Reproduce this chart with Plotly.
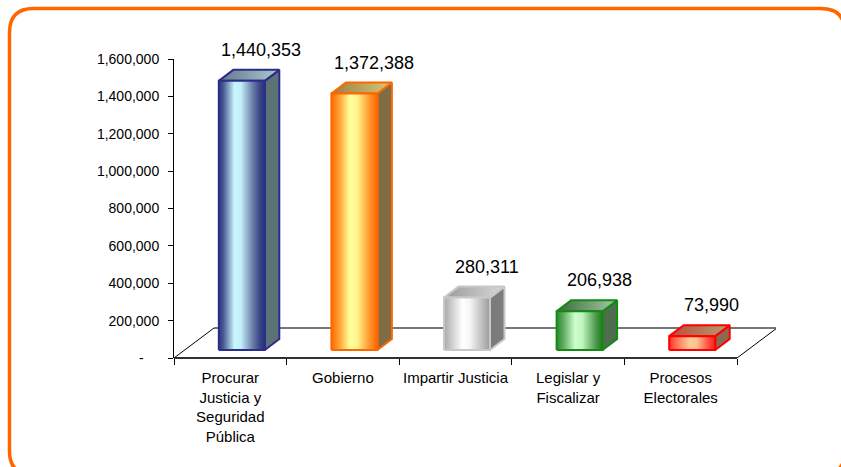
import plotly.graph_objects as go

# ---- data -------------------------------------------------------------
categories = [
    "Procurar<br>Justicia y<br>Seguridad<br>Pública",
    "Gobierno",
    "Impartir Justicia",
    "Legislar y<br>Fiscalizar",
    "Procesos<br>Electorales",
]
values = [1440353, 1372388, 280311, 206938, 73990]
y_tickvals = [0, 200000, 400000, 600000, 800000, 1000000, 1200000, 1400000, 1600000]
y_ticktext = ["-\u00a0\u00a0\u00a0\u00a0", "200,000", "400,000", "600,000", "800,000",
              "1,000,000", "1,200,000", "1,400,000", "1,600,000"]

# ---- styles per bar: outline, front gradient, top gradient, side colour -
bar_styles = [
    dict(line="#2c2c8c",
         front=[[0, "#2c3578"], [0.1, "#4a5a92"], [0.34, "#c8f6fd"], [0.48, "#c2eff9"],
                [0.74, "#6a7ca6"], [0.9, "#364484"], [1, "#29307c"]],
         top=[[0, "#66748e"], [1, "#a8cccc"]], side="#5b7377"),
    dict(line="#ff6600",
         front=[[0, "#ff6a00"], [0.16, "#ff9c30"], [0.4, "#ffff99"], [0.56, "#fff48e"],
                [0.82, "#ff9a30"], [1, "#ff6600"]],
         top=[[0, "#9a8040"], [1, "#d6c878"]], side="#7f6d45"),
    dict(line="#c8c8c8",
         front=[[0, "#a8a8a8"], [0.4, "#ffffff"], [0.56, "#f6f6f6"], [1, "#9a9a9a"]],
         top=[[0, "#9a9a9a"], [1, "#d8d8d8"]], side="#7c7c7c"),
    dict(line="#148a14",
         front=[[0, "#2a8a2a"], [0.15, "#62aa62"], [0.4, "#ccffcc"], [0.56, "#c0f4c0"],
                [0.85, "#4e9a4e"], [1, "#1a7a1a"]],
         top=[[0, "#3a6a3a"], [1, "#a8c8a8"]], side="#4e6e4e"),
    dict(line="#ff0000",
         front=[[0, "#ff2a2a"], [0.15, "#ff7050"], [0.45, "#ffcc99"], [0.6, "#ffc090"],
                [0.85, "#ff5040"], [1, "#ff1a1a"]],
         top=[[0, "#c04a3a"], [1, "#b0a070"]], side="#8a6a50"),
]

FONT = "Arial, Liberation Sans, sans-serif"

# ---- page geometry ----------------------------------------------------
W_PAGE, H_PAGE = 841, 467
L, T, PW, PH = 174, 59, 602, 299          # plot area in pixels
YMAX = 1600000
PX_PER_CAT = 112.6
X0 = -0.5
X1 = X0 + PW / PX_PER_CAT
VAL_PER_PX = YMAX / PH

# 3-D projection offsets (category units / value units)
FLOOR_DX, FLOOR_DY = 40 / PX_PER_CAT, 30 * VAL_PER_PX
OFF_X, OFF_Y = 11.5 / PX_PER_CAT, 8 * VAL_PER_PX
HALF = 23 / PX_PER_CAT
DEP_X, DEP_Y = 14.5 / PX_PER_CAT, 11 * VAL_PER_PX

fig = go.Figure()

# floor of the 3-D plot
n = len(categories)
fig.add_trace(go.Scatter(
    x=[X0, n - 0.5, n - 0.5 + FLOOR_DX, X0 + FLOOR_DX, X0],
    y=[0, 0, FLOOR_DY, FLOOR_DY, 0],
    mode="lines", fill="toself", fillcolor="white",
    line=dict(color="#000000", width=1), hoverinfo="skip", showlegend=False))
fig.add_trace(go.Scatter(
    x=[X0 + FLOOR_DX, n - 0.5 + FLOOR_DX], y=[FLOOR_DY, FLOOR_DY],
    mode="lines", line=dict(color="#6e6e6e", width=1.2),
    hoverinfo="skip", showlegend=False))

# bars: side face, top face, front face
for i, (v, st) in enumerate(zip(values, bar_styles)):
    xl = i + OFF_X - HALF
    xr = i + OFF_X + HALF
    yb = OFF_Y
    yt = OFF_Y + v
    outline = dict(color=st["line"], width=2)
    fig.add_trace(go.Scatter(
        x=[xr, xr + DEP_X, xr + DEP_X, xr, xr],
        y=[yb, yb + DEP_Y, yt + DEP_Y, yt, yb],
        mode="lines", fill="toself", fillcolor=st["side"], line=outline,
        hoverinfo="skip", showlegend=False))
    fig.add_trace(go.Scatter(
        x=[xl, xr, xr + DEP_X, xl + DEP_X, xl],
        y=[yt, yt, yt + DEP_Y, yt + DEP_Y, yt],
        mode="lines", fill="toself",
        fillgradient=dict(type="horizontal", colorscale=st["top"]),
        line=outline, hoverinfo="skip", showlegend=False))
    fig.add_trace(go.Scatter(
        x=[xl, xr, xr, xl, xl],
        y=[yb, yb, yt, yt, yb],
        mode="lines", fill="toself",
        fillgradient=dict(type="horizontal", colorscale=st["front"]),
        line=outline, hoverinfo="skip", showlegend=False))
    fig.add_annotation(
        x=i, y=yt, xref="x", yref="y", text=f"{v:,}", showarrow=False,
        xshift=31, yshift=31, font=dict(family=FONT, size=18, color="#000000"))

# front edge of the floor (category axis line)
fig.add_shape(type="line", xref="x", yref="paper", x0=X0, x1=n - 0.5, y0=0, y1=0,
              line=dict(color="#303030", width=2), layer="above")


# rounded orange frame around the chart
def px(xp):
    return (xp - L) / PW


def py(yp):
    return (T + PH - yp) / PH


bl, bt, br, bb, r = 9.5, 8.5, 845.0, 475.0, 24.0
frame = (
    f"M {px(bl + r)} {py(bt)} L {px(br - r)} {py(bt)} "
    f"Q {px(br)} {py(bt)} {px(br)} {py(bt + r)} L {px(br)} {py(bb - r)} "
    f"Q {px(br)} {py(bb)} {px(br - r)} {py(bb)} L {px(bl + r)} {py(bb)} "
    f"Q {px(bl)} {py(bb)} {px(bl)} {py(bb - r)} L {px(bl)} {py(bt + r)} "
    f"Q {px(bl)} {py(bt)} {px(bl + r)} {py(bt)} Z"
)
fig.add_shape(type="path", xref="paper", yref="paper", path=frame,
              line=dict(color="#ff6600", width=3.5), layer="above")

fig.update_layout(
    width=W_PAGE, height=H_PAGE,
    margin=dict(l=L, r=W_PAGE - L - PW, t=T, b=H_PAGE - T - PH, pad=0),
    paper_bgcolor="white", plot_bgcolor="white",
    font=dict(family=FONT, color="#000000"),
    showlegend=False,
    xaxis=dict(
        range=[X0, X1], showgrid=False, zeroline=False, showline=False,
        tickmode="array", tickvals=list(range(n)), ticktext=categories,
        ticks="", ticklabelstandoff=9,
        tickfont=dict(family=FONT, size=15, color="#000000"),
        minor=dict(tickmode="array", tickvals=[k - 0.5 for k in range(n + 1)],
                   ticks="outside", ticklen=6, tickwidth=1, tickcolor="#000000"),
        fixedrange=True,
    ),
    yaxis=dict(
        range=[0, YMAX], showgrid=False, zeroline=False,
        showline=True, linecolor="#000000", linewidth=1,
        tickmode="array", tickvals=y_tickvals, ticktext=y_ticktext,
        ticks="outside", ticklen=5, tickcolor="#000000", ticklabelstandoff=6,
        tickfont=dict(family=FONT, size=14, color="#000000"),
        fixedrange=True,
    ),
)

fig.write_html("out.html")
